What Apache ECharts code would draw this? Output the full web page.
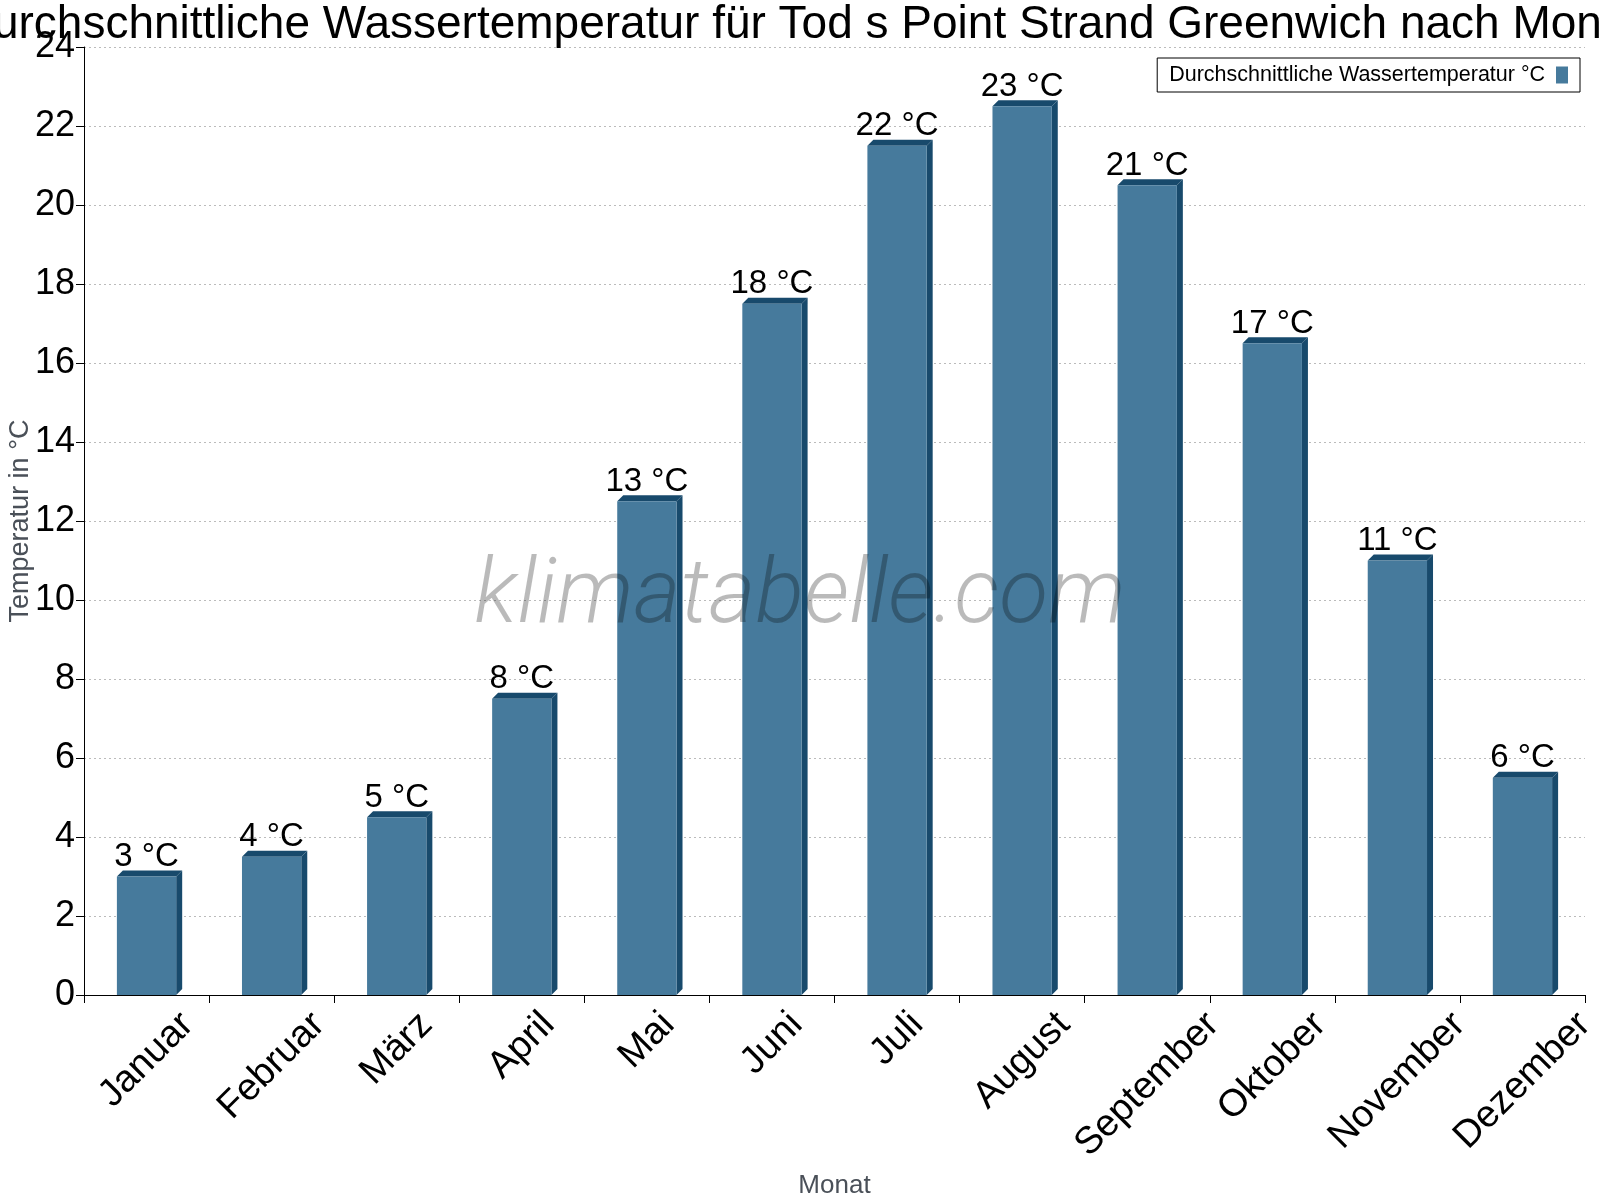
<!DOCTYPE html>
<html>
<head>
<meta charset="utf-8">
<script src="https://cdn.jsdelivr.net/npm/echarts@6/dist/echarts.min.js"></script>
<style>
  html, body { margin: 0; padding: 0; background: #fff; }
  #chart { width: 1600px; height: 1200px; }
</style>
</head>
<body>
<div id="chart"></div>
<script>
const months = ['Januar', 'Februar', 'März', 'April', 'Mai', 'Juni', 'Juli', 'August', 'September', 'Oktober', 'November', 'Dezember'];
const waterTemp = [3, 3.5, 4.5, 7.5, 12.5, 17.5, 21.5, 22.5, 20.5, 16.5, 11, 5.5];
const seriesName = 'Durchschnittliche Wassertemperatur °C';
const titleText = 'Durchschnittliche Wassertemperatur für Tod s Point Strand Greenwich nach Monat';

const FRONT = '#467a9c';
const DARK = '#184a6c';
const DEPTH = 6;
const font = '"Liberation Sans", Arial, sans-serif';
const xLabelSize = 38;

const chart = echarts.init(document.getElementById('chart'));
const measure = document.createElement('canvas').getContext('2d');
measure.font = xLabelSize + 'px ' + font;

// top and right faces of the pseudo 3d bars
function render3d(params, api) {
  const idx = api.value(0);
  const top = api.coord([idx, api.value(1)]);
  const base = api.coord([idx, 0]);
  const half = api.size([1, 0])[0] * 0.474 / 2;
  const x0 = top[0] - half, x1 = top[0] + half;
  const yt = top[1], yb = base[1];
  return {
    type: 'group',
    children: [
      {
        type: 'polygon',
        shape: { points: [[x0, yt], [x0 + DEPTH, yt - DEPTH], [x1 + DEPTH, yt - DEPTH], [x1, yt]] },
        style: { fill: DARK }
      },
      {
        type: 'polygon',
        shape: { points: [[x1, yt], [x1 + DEPTH, yt - DEPTH], [x1 + DEPTH, yb - DEPTH], [x1, yb]] },
        style: { fill: DARK }
      }
    ]
  };
}

// month names turned 45° round their middle, all hanging from one line,
// so a longer name sits lower
function renderMonth(params, api) {
  const idx = api.value(0);
  const base = api.coord([idx, 0]);
  const name = months[idx];
  const w = measure.measureText(name).width;
  const drop = 14 + 0.354 * (w + 28);
  return {
    type: 'text',
    x: base[0],
    y: base[1] + drop,
    rotation: Math.PI / 4,
    style: {
      text: name,
      align: 'center',
      verticalAlign: 'middle',
      fontFamily: font,
      fontSize: xLabelSize,
      fill: '#000'
    }
  };
}

const option = {
  backgroundColor: '#fff',
  animation: false,
  title: {
    text: titleText,
    left: 'center',
    top: -3,
    textStyle: { fontFamily: font, fontSize: 46, fontWeight: 'normal', color: '#000' }
  },
  legend: {
    data: [seriesName],
    right: 20,
    top: 58,
    align: 'right',
    padding: [6, 12, 6, 12],
    borderColor: '#000',
    borderWidth: 1,
    borderRadius: 0,
    icon: 'rect',
    itemWidth: 12,
    itemHeight: 17,
    formatter: name => name + ' ',
    textStyle: { fontFamily: font, fontSize: 21.5, color: '#000' }
  },
  grid: { left: 84, right: 15, top: 47, bottom: 205, containLabel: false, outerBoundsMode: 'none' },
  xAxis: {
    type: 'category',
    data: months,
    boundaryGap: true,
    name: 'Monat',
    nameLocation: 'middle',
    nameGap: 178,
    nameMoveOverlap: false,
    nameTextStyle: { fontFamily: font, fontSize: 26, color: '#4a5058' },
    axisLine: { lineStyle: { color: '#000', width: 1 } },
    axisTick: { show: true, length: 8, lineStyle: { color: '#000' } },
    axisLabel: { show: false }
  },
  yAxis: {
    type: 'value',
    min: 0,
    max: 24,
    interval: 2,
    name: 'Temperatur in °C',
    nameLocation: 'middle',
    nameGap: 50,
    nameMoveOverlap: false,
    nameTextStyle: { fontFamily: font, fontSize: 27, color: '#4a5058' },
    axisLine: { show: true, lineStyle: { color: '#000', width: 1 } },
    axisTick: { show: true, length: 8, lineStyle: { color: '#000' } },
    axisLabel: { margin: 9, fontFamily: font, fontSize: 36, color: '#000' },
    splitLine: { show: true, lineStyle: { color: '#bbbbbb', type: [2, 3], width: 1 } }
  },
  series: [
    {
      name: seriesName,
      type: 'bar',
      data: waterTemp,
      barWidth: '47.4%',
      itemStyle: { color: FRONT },
      label: {
        show: true,
        position: 'top',
        distance: 3,
        fontFamily: font,
        fontSize: 33,
        color: '#000',
        formatter: p => Math.round(p.value) + ' °C'
      },
      z: 3
    },
    {
      type: 'custom',
      silent: true,
      renderItem: render3d,
      data: waterTemp.map((v, i) => [i, v]),
      encode: { x: 0, y: 1 },
      z: 2
    },
    {
      type: 'custom',
      silent: true,
      clip: false,
      renderItem: renderMonth,
      data: months.map((m, i) => [i, 0]),
      encode: { x: 0, y: 1 },
      z: 2
    }
  ],
  graphic: [
    {
      type: 'text',
      left: 'center',
      top: 554,
      z: 100,
      silent: true,
      style: {
        text: 'klimatabelle.com',
        fontFamily: 'Roboto, sans-serif',
        fontStyle: 'italic',
        fontWeight: 300,
        fontSize: 90,
        fill: 'rgba(0,0,0,0.27)'
      }
    }
  ]
};

chart.setOption(option);
</script>
</body>
</html>
